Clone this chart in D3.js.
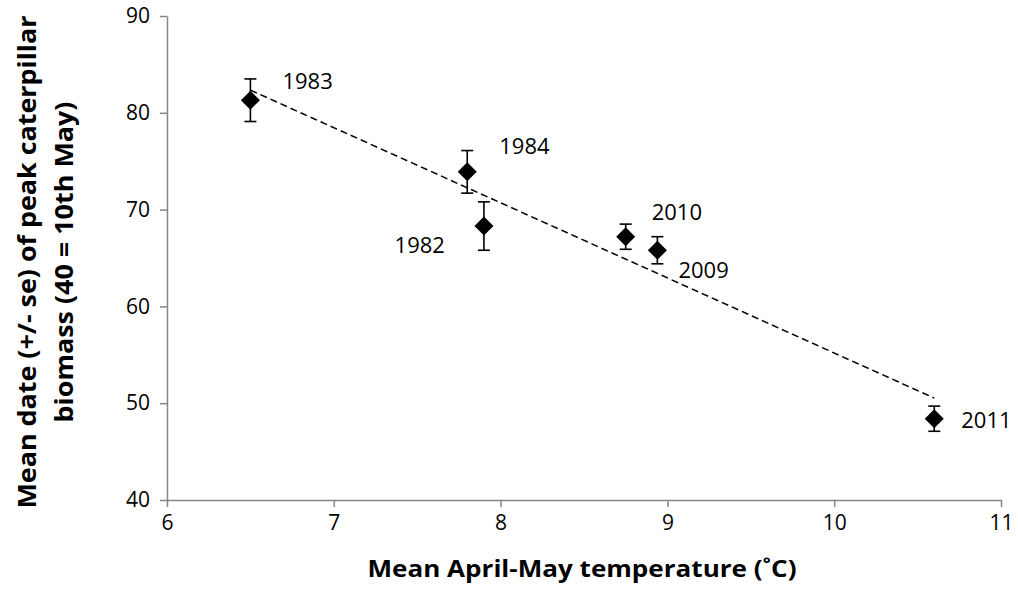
<!DOCTYPE html>
<html>
<head>
<meta charset="utf-8">
<script src="https://cdn.jsdelivr.net/npm/d3@7"></script>
<style>
  body { margin: 0; background: #fff; }
  text { font-family: 'Open Sans', sans-serif; fill: #000; }
</style>
</head>
<body>
<div id="chart"></div>
<script>
// data
const years = ['1983', '1984', '1982', '2010', '2009', '2011'];
const temps = [6.5, 7.8, 7.9, 8.75, 8.94, 10.6];
const peakDates = [81.3, 73.9, 68.3, 67.2, 65.8, 48.4];
const stdErrs = [2.2, 2.2, 2.5, 1.3, 1.4, 1.3];
const xTicks = [6, 7, 8, 9, 10, 11];
const yTicks = [40, 50, 60, 70, 80, 90];

const width = 1018;
const height = 602;
const axisGray = '#868686';

// where each year label sits relative to its marker
const labelPlace = {
  1983: { dx: 32, dy: -11, anchor: 'start' },
  1984: { dx: 32, dy: -18, anchor: 'start' },
  1982: { dx: -39, dy: 27, anchor: 'end' },
  2010: { dx: 26, dy: -17, anchor: 'start' },
  2009: { dx: 21, dy: 28, anchor: 'start' },
  2011: { dx: 27, dy: 9, anchor: 'start' },
};

const points = years.map((yr, i) => ({ year: yr, t: temps[i], d: peakDates[i], se: stdErrs[i] }));

const svg = d3.select('#chart').append('svg')
  .attr('width', width)
  .attr('height', height);

const x = d3.scaleLinear().domain([6, 11]).range([167, 1001]);
const y = d3.scaleLinear().domain([40, 90]).range([500, 16]);

// axes
const xAxis = svg.append('g')
  .attr('transform', `translate(0,${y(40)})`)
  .call(d3.axisBottom(x).tickValues(xTicks).tickFormat(d3.format('d'))
    .tickSize(7).tickSizeOuter(0).tickPadding(8));

const yAxis = svg.append('g')
  .attr('transform', `translate(${x(6)},0)`)
  .call(d3.axisLeft(y).tickValues(yTicks).tickFormat(d3.format('d'))
    .tickSize(7).tickSizeOuter(0).tickPadding(10));

[xAxis, yAxis].forEach(g => {
  g.select('.domain').attr('stroke', axisGray).attr('stroke-width', 1.5);
  g.selectAll('.tick line').attr('stroke', axisGray).attr('stroke-width', 1.5);
  g.selectAll('.tick text')
    .style('font-family', "'Open Sans', sans-serif")
    .style('font-size', '21px')
    .attr('fill', '#000');
});

// trend line, least squares through the points
const mx = d3.mean(temps);
const my = d3.mean(peakDates);
const slope = d3.sum(temps, (t, i) => (t - mx) * (peakDates[i] - my)) / d3.sum(temps, t => (t - mx) ** 2);
const fit = t => my + slope * (t - mx);
const [tMin, tMax] = d3.extent(temps);

svg.append('line')
  .attr('x1', x(tMin))
  .attr('y1', y(fit(tMin)))
  .attr('x2', x(tMax))
  .attr('y2', y(fit(tMax)))
  .attr('stroke', '#000')
  .attr('stroke-width', 1.5)
  .attr('stroke-dasharray', '7,4');

// error bars
const bars = svg.append('g')
  .attr('stroke', '#000')
  .attr('stroke-width', 1.6)
  .selectAll('g')
  .data(points)
  .enter().append('g');

bars.append('line')
  .attr('x1', d => x(d.t)).attr('x2', d => x(d.t))
  .attr('y1', d => y(d.d + d.se)).attr('y2', d => y(d.d - d.se));
bars.append('line')
  .attr('x1', d => x(d.t) - 6).attr('x2', d => x(d.t) + 6)
  .attr('y1', d => y(d.d + d.se)).attr('y2', d => y(d.d + d.se));
bars.append('line')
  .attr('x1', d => x(d.t) - 6).attr('x2', d => x(d.t) + 6)
  .attr('y1', d => y(d.d - d.se)).attr('y2', d => y(d.d - d.se));

// diamonds
svg.append('g')
  .selectAll('path')
  .data(points)
  .enter().append('path')
  .attr('transform', d => `translate(${x(d.t)},${y(d.d)})`)
  .attr('d', 'M0,-9.5L9.5,0L0,9.5L-9.5,0Z')
  .attr('fill', '#000');

// year labels
svg.append('g')
  .selectAll('text')
  .data(points)
  .enter().append('text')
  .attr('x', d => x(d.t) + labelPlace[d.year].dx)
  .attr('y', d => y(d.d) + labelPlace[d.year].dy)
  .attr('text-anchor', d => labelPlace[d.year].anchor)
  .style('font-size', '22px')
  .text(d => d.year);

// axis titles
svg.append('text')
  .attr('x', 582)
  .attr('y', 577)
  .attr('text-anchor', 'middle')
  .attr('textLength', 429)
  .attr('lengthAdjust', 'spacingAndGlyphs')
  .style('font-size', '23px')
  .style('font-weight', 'bold')
  .text('Mean April-May temperature (\u02DAC)');

const yTitle = svg.append('g')
  .attr('transform', 'translate(0,262) rotate(-90)');

yTitle.append('text')
  .attr('x', 0)
  .attr('y', 36)
  .attr('text-anchor', 'middle')
  .attr('textLength', 493)
  .attr('lengthAdjust', 'spacingAndGlyphs')
  .style('font-size', '25px')
  .style('font-weight', 'bold')
  .text('Mean date (+/- se) of peak caterpillar');

yTitle.append('text')
  .attr('x', 0)
  .attr('y', 73)
  .attr('text-anchor', 'middle')
  .attr('textLength', 321)
  .attr('lengthAdjust', 'spacingAndGlyphs')
  .style('font-size', '25px')
  .style('font-weight', 'bold')
  .text('biomass (40 = 10th May)');
</script>
</body>
</html>
